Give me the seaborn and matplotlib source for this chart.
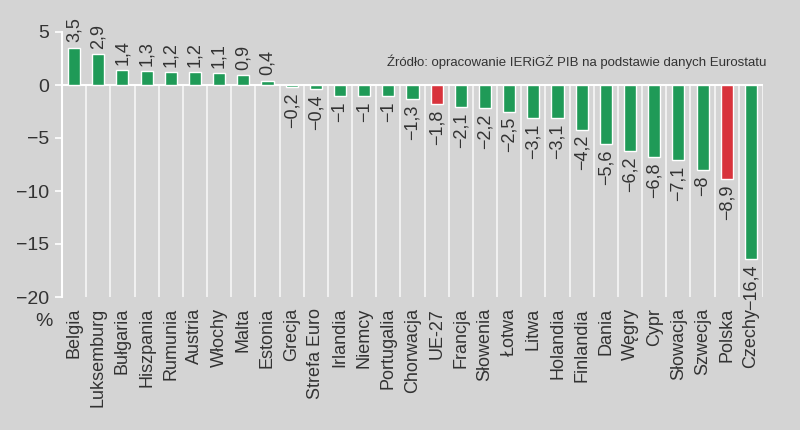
import matplotlib
matplotlib.use("Agg")
import matplotlib.pyplot as plt
import seaborn as sns
import pandas as pd

countries = ["Belgia", "Luksemburg", "Bułgaria", "Hiszpania", "Rumunia", "Austria",
             "Włochy", "Malta", "Estonia", "Grecja", "Strefa Euro", "Irlandia", "Niemcy",
             "Portugalia", "Chorwacja", "UE-27", "Francja", "Słowenia", "Łotwa", "Litwa",
             "Holandia", "Finlandia", "Dania", "Węgry", "Cypr", "Słowacja", "Szwecja",
             "Polska", "Czechy"]
values = [3.5, 2.9, 1.4, 1.3, 1.2, 1.2, 1.1, 0.9, 0.4, -0.2, -0.4, -1, -1, -1, -1.3,
          -1.8, -2.1, -2.2, -2.5, -3.1, -3.1, -4.2, -5.6, -6.2, -6.8, -7.1, -8, -8.9, -16.4]
highlight = ["UE-27", "Polska"]
yticks = [5, 0, -5, -10, -15, -20]

BG = "#d4d4d4"
GREEN = "#1f9a57"
RED = "#d8333c"
TXT = "#333333"

sns.set_theme(style="white")
plt.rcParams["font.family"] = ["Liberation Sans", "DejaVu Sans"]

df = pd.DataFrame({"kraj": countries, "wartosc": values})
colors = [RED if c in highlight else GREEN for c in countries]

fig = plt.figure(figsize=(8, 4.3), dpi=100, facecolor=BG)
ax = fig.add_axes([62 / 800, 1 - 297 / 430, (763 - 62) / 800, (297 - 32) / 430])
ax.set_facecolor(BG)

sns.barplot(data=df, x="kraj", y="wartosc", hue="kraj", palette=colors,
            legend=False, width=0.5, saturation=1, ax=ax, zorder=3)

n = len(countries)
ax.set_xlim(-0.5, n - 0.5)
ax.set_ylim(min(yticks), max(yticks))

# vertical separators below zero
for i in range(n):
    ax.vlines(i + 0.5, min(yticks), 0, color="white", lw=1.2, alpha=0.8, zorder=1)
ax.axhline(0, color="white", lw=1.5, zorder=2)

for s in ["top", "right", "bottom"]:
    ax.spines[s].set_visible(False)
ax.spines["left"].set_color("white")
ax.spines["left"].set_linewidth(1.5)

ax.set_yticks(yticks)
ax.set_yticklabels([str(t).replace("-", "\u2212") for t in yticks], fontsize=14, color=TXT)
ax.tick_params(axis="y", length=5, width=1.2, color="white", pad=4, left=True)
ax.tick_params(axis="x", length=0, pad=8)
ax.set_xticks(range(n))
ax.set_xticklabels(countries, rotation=90, fontsize=13, color=TXT, va="top", ha="center")
ax.set_xlabel("")
ax.set_ylabel("")

def fmt(v):
    s = f"{v:g}".replace(".", ",").replace("-", "\u2212")
    return s

for i, v in enumerate(values):
    if v >= 0:
        ax.annotate(fmt(v), (i, v), xytext=(0, 4), textcoords="offset points",
                    rotation=90, ha="center", va="bottom", fontsize=13, color=TXT)
    else:
        ax.annotate(fmt(v), (i, v), xytext=(0, -4), textcoords="offset points",
                    rotation=90, ha="center", va="top", fontsize=13, color=TXT)

fig.text(766 / 800, 1 - 62 / 430, "Źródło: opracowanie IERiGŻ PIB na podstawie danych Eurostatu",
         ha="right", va="center", fontsize=9.5, color=TXT)
fig.text(44 / 800, 1 - 322 / 430, "%", ha="center", va="center", fontsize=14, color=TXT)

fig.savefig("out.png", dpi=100, facecolor=BG)
